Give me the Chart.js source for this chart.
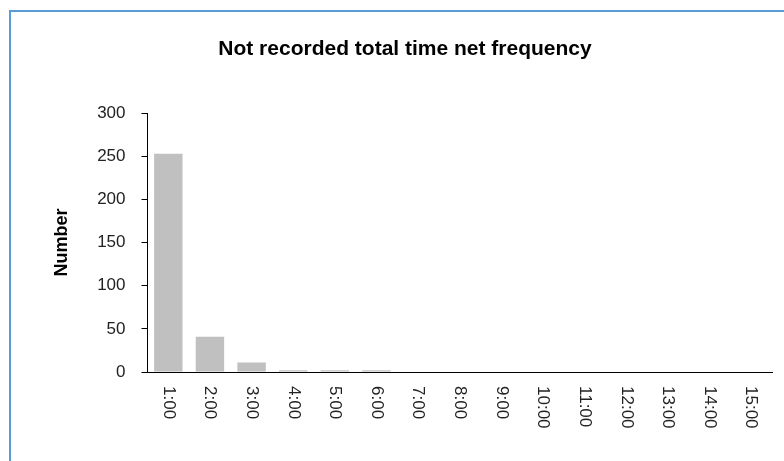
<!DOCTYPE html>
<html>
<head>
<meta charset="utf-8">
<script src="https://cdn.jsdelivr.net/npm/chart.js@4/dist/chart.umd.min.js"></script>
<style>
  html,body{margin:0;padding:0;background:#fff;overflow:hidden;}
  #wrap{position:relative;width:784px;height:461px;}
  #frame{position:absolute;left:9px;top:10px;width:800px;height:480px;border-top:2px solid #5b9bd5;border-left:2px solid #5b9bd5;}
  canvas{position:absolute;left:0;top:0;}
</style>
</head>
<body>
<div id="wrap">
  <div id="frame"></div>
  <canvas id="c" width="784" height="461"></canvas>
</div>
<script>
// data
const hours=["1:00","2:00","3:00","4:00","5:00","6:00","7:00","8:00","9:00","10:00","11:00","12:00","13:00","14:00","15:00"];
const counts=[253,41,11,2,2,2,0,0,0,0,0,0,0,0,0];
const yTicks=[0,50,100,150,200,250,300];

const FONT="'Liberation Sans', Arial, sans-serif";

// x labels read top-to-bottom (rotated clockwise), so draw them off the x scale
const downLabels={
  id:"downLabels",
  afterDraw(chart){
    const sc=chart.scales.x, ctx=chart.ctx;
    ctx.save();
    ctx.font="17px "+FONT; ctx.fillStyle="#222";
    ctx.textAlign="left"; ctx.textBaseline="middle";
    sc.ticks.forEach((t,i)=>{
      const x=sc.getPixelForTick(i);
      ctx.save(); ctx.translate(x, sc.top+14); ctx.rotate(Math.PI/2);
      ctx.fillText(hours[i],0,0); ctx.restore();
    });
    ctx.restore();
  }
};

new Chart(document.getElementById("c"),{
  type:"bar",
  data:{labels:hours,datasets:[{data:counts,backgroundColor:"#c0c0c0",borderWidth:0,barPercentage:0.683,categoryPercentage:1}]},
  options:{
    responsive:false,animation:false,
    layout:{padding:{left:38,right:12,top:0,bottom:0}},
    plugins:{
      legend:{display:false},tooltip:{enabled:false},
      title:{display:true,text:"Not recorded total time net frequency",color:"#000",
        font:{family:FONT,size:21,weight:"bold"},padding:{top:37,bottom:51}}
    },
    scales:{
      x:{
        grid:{display:false},
        border:{display:true,color:"#000",width:1},
        ticks:{display:false},
        afterFit:s=>{s.height=89;}
      },
      y:{
        min:0,max:300,
        afterBuildTicks:s=>{s.ticks=yTicks.map(v=>({value:v}));},
        grid:{drawOnChartArea:false,drawTicks:true,tickLength:6,color:"#000",tickColor:"#000"},
        border:{display:true,color:"#000",width:1},
        ticks:{color:"#222",padding:16,font:{family:FONT,size:17}},
        title:{display:true,text:"Number",color:"#000",font:{family:FONT,size:18,weight:"bold"},padding:{top:13,bottom:0}},
        afterFit:s=>{s.width=109.5;}
      }
    }
  },
  plugins:[downLabels]
});
</script>
</body>
</html>
